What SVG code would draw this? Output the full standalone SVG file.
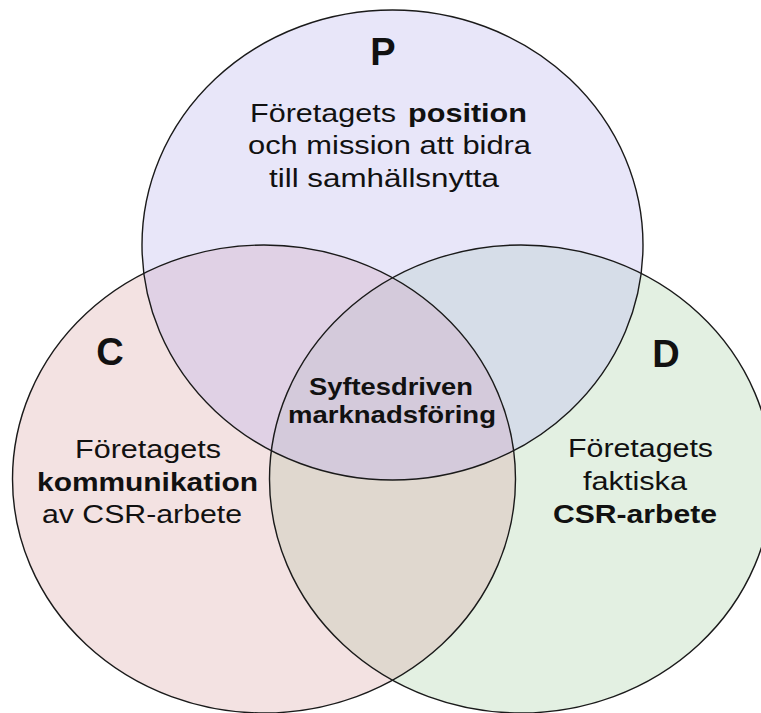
<svg xmlns="http://www.w3.org/2000/svg" width="761" height="713" viewBox="0 0 761 713">
<style>
text{font-family:"Liberation Sans",Arial,sans-serif;fill:#111;}
.reg{font-size:26.5px;}
.b{font-weight:bold;}
.lbl{font-size:38px;font-weight:bold;}
.ctr{font-size:24.5px;font-weight:bold;}
.outline{fill:none;stroke:#1a1a1a;stroke-width:1.4;}
</style>
<defs>
<ellipse id="eP" cx="392.5" cy="245" rx="250.5" ry="235"/>
<ellipse id="eC" cx="264" cy="479" rx="251.5" ry="234"/>
<ellipse id="eD" cx="521" cy="479" rx="251.5" ry="234"/>
<clipPath id="cP"><use href="#eP"/></clipPath>
<clipPath id="cC"><use href="#eC"/></clipPath>
</defs>
<rect width="761" height="713" fill="#fff"/>
<g id="fills">
<use href="#eP" fill="#e8e6f9"/>
<use href="#eC" fill="#f3e2e2"/>
<use href="#eD" fill="#e3f0e2"/>
<g clip-path="url(#cP)"><use href="#eC" fill="#e0d1e5"/><use href="#eD" fill="#d6dde8"/></g>
<g clip-path="url(#cC)"><use href="#eD" fill="#e0d8cf"/></g>
<g clip-path="url(#cP)"><g clip-path="url(#cC)"><use href="#eD" fill="#d4cadb"/></g></g>
</g>
<g id="node-P">
<use href="#eP" class="outline"/>
<text class="lbl" x="383" y="65" text-anchor="middle">P</text>
<text class="reg" x="250" y="122" textLength="146" lengthAdjust="spacingAndGlyphs">Företagets</text>
<text class="reg b" x="408" y="122" textLength="119" lengthAdjust="spacingAndGlyphs">position</text>
<text class="reg" x="248" y="154" textLength="283" lengthAdjust="spacingAndGlyphs">och mission att bidra</text>
<text class="reg" x="269" y="187" textLength="230" lengthAdjust="spacingAndGlyphs">till samhällsnytta</text>
</g>
<g id="node-C">
<use href="#eC" class="outline"/>
<text class="lbl" x="110" y="365" text-anchor="middle">C</text>
<text class="reg" x="75" y="458" textLength="146" lengthAdjust="spacingAndGlyphs">Företagets</text>
<text class="reg b" x="37" y="491" textLength="221" lengthAdjust="spacingAndGlyphs">kommunikation</text>
<text class="reg" x="42" y="523" textLength="200" lengthAdjust="spacingAndGlyphs">av CSR-arbete</text>
</g>
<g id="node-D">
<use href="#eD" class="outline"/>
<text class="lbl" x="666" y="367" text-anchor="middle">D</text>
<text class="reg" x="568" y="457" textLength="145" lengthAdjust="spacingAndGlyphs">Företagets</text>
<text class="reg" x="583" y="490" textLength="104" lengthAdjust="spacingAndGlyphs">faktiska</text>
<text class="reg b" x="553" y="523" textLength="164" lengthAdjust="spacingAndGlyphs">CSR-arbete</text>
</g>
<g id="node-center">
<text class="ctr" x="309" y="395" textLength="164" lengthAdjust="spacingAndGlyphs">Syftesdriven</text>
<text class="ctr" x="288" y="423" textLength="208" lengthAdjust="spacingAndGlyphs">marknadsföring</text>
</g>
<g id="connectors"></g>
</svg>
